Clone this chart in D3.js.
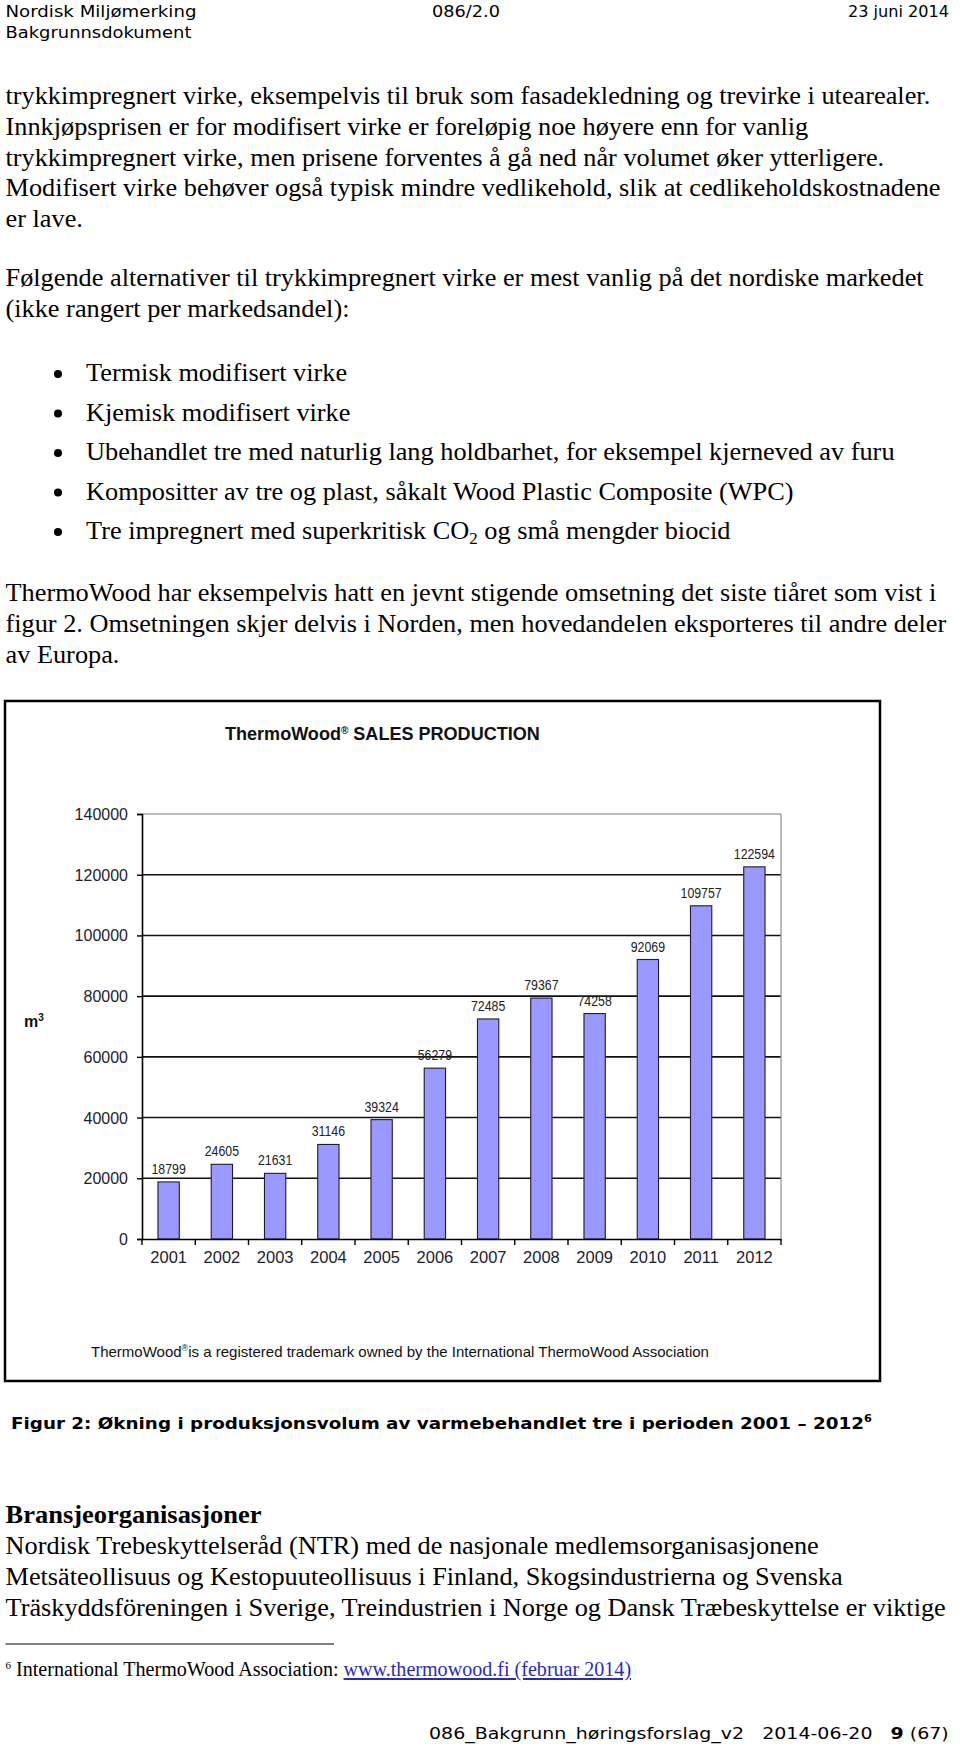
<!DOCTYPE html>
<html>
<head>
<meta charset="utf-8">
<script src="https://cdn.jsdelivr.net/npm/d3@7"></script>
<style>
body { margin: 0; background: #fff; }
svg { display: block; }
</style>
</head>
<body>
<svg id="page" width="960" height="1744"></svg>
<script>
// chart data
var years = ["2001", "2002", "2003", "2004", "2005", "2006", "2007", "2008", "2009", "2010", "2011", "2012"];
var production = [18799, 24605, 21631, 31146, 39324, 56279, 72485, 79367, 74258, 92069, 109757, 122594];
var yTickVals = [0, 20000, 40000, 60000, 80000, 100000, 120000, 140000];

// page text
var para1 = [
    "trykkimpregnert virke, eksempelvis til bruk som fasadekledning og trevirke i utearealer.",
    "Innkjøpsprisen er for modifisert virke er foreløpig noe høyere enn for vanlig",
    "trykkimpregnert virke, men prisene forventes å gå ned når volumet øker ytterligere.",
    "Modifisert virke behøver også typisk mindre vedlikehold, slik at cedlikeholdskostnadene",
    "er lave."
];
var para2 = [
    "Følgende alternativer til trykkimpregnert virke er mest vanlig på det nordiske markedet",
    "(ikke rangert per markedsandel):"
];
var bullets = [
    "Termisk modifisert virke",
    "Kjemisk modifisert virke",
    "Ubehandlet tre med naturlig lang holdbarhet, for eksempel kjerneved av furu",
    "Kompositter av tre og plast, såkalt Wood Plastic Composite (WPC)",
    "Tre impregnert med superkritisk CO|2| og små mengder biocid"
];
var para3 = [
    "ThermoWood har eksempelvis hatt en jevnt stigende omsetning det siste tiåret som vist i",
    "figur 2. Omsetningen skjer delvis i Norden, men hovedandelen eksporteres til andre deler",
    "av Europa."
];
var para4 = [
    "Nordisk Trebeskyttelseråd (NTR) med de nasjonale medlemsorganisasjonene",
    "Metsäteollisuus og Kestopuuteollisuus i Finland, Skogsindustrierna og Svenska",
    "Träskyddsföreningen i Sverige, Treindustrien i Norge og Dansk Træbeskyttelse er viktige"
];

var SANS = "'DejaVu Sans', Verdana, sans-serif";
var SERIF = "'Liberation Serif', 'Times New Roman', serif";
var ARIAL = "'Liberation Sans', Arial, sans-serif";
var BODY_SZE = 25;
var LINE_H = 30.8;
var AXIS_TXT_COL = "#1c2230";

var svg = d3.select("#page");
svg.append("rect").attr("width", 960).attr("height", 1744).attr("fill", "#fff");

// squeeze/stretch a text to a given width
function fit(t, x, y, w) {
    var n = t.node().getComputedTextLength();
    t.attr("transform", "translate(" + x + "," + y + ") scale(" + (w / n) + ",1)");
    return t;
}

function sansText(str, size, bold) {
    return svg.append("text")
        .style("font-family", SANS)
        .style("font-size", size + "px")
        .style("font-weight", bold ? "bold" : "normal")
        .style("white-space", "pre")
        .attr("fill", "#000")
        .text(str);
}

// ---- header
fit(sansText("Nordisk Miljømerking", 16), 5.5, 17, 191);
fit(sansText("Bakgrunnsdokument", 16), 5.5, 38, 186);
fit(sansText("086/2.0", 16), 432, 17, 68);
fit(sansText("23 juni 2014", 16), 848, 17, 101);

// ---- body text
var probe = svg.append("text").style("font-family", SERIF).style("font-size", BODY_SZE + "px").text(para1[0]);
var bodyScale = 925 / probe.node().getComputedTextLength();
probe.remove();

function bodyLine(str, x, y) {
    var t = svg.append("text")
        .style("font-family", SERIF)
        .style("font-size", BODY_SZE + "px")
        .attr("fill", "#000")
        .attr("transform", "translate(" + x + "," + y + ") scale(" + bodyScale + ",1)");
    var parts = str.split("|");
    parts.forEach(function(p, i) {
        var ts = t.append("tspan").text(p);
        if (i % 2 == 1) ts.style("font-size", "16px").attr("dy", 5);
        else if (i > 0) ts.attr("dy", -5);
    });
    return t;
}

function paragraph(lines, x, y0) {
    lines.forEach(function(d, i) { bodyLine(d, x, y0 + i * LINE_H); });
}

paragraph(para1, 5.5, 104);
paragraph(para2, 5.5, 286);

bullets.forEach(function(d, i) {
    var yy = 381 + i * 39.5;
    svg.append("circle").attr("cx", 58).attr("cy", yy - 7).attr("r", 4).attr("fill", "#000");
    bodyLine(d, 86, yy);
});

paragraph(para3, 5.5, 601);

// ---- chart
var frameX = 5, frameY = 701, frameW = 875, frameH = 680;
svg.append("rect")
    .attr("x", frameX).attr("y", frameY)
    .attr("width", frameW).attr("height", frameH)
    .attr("fill", "#fff")
    .attr("stroke", "#000")
    .attr("stroke-width", 2.5);

var chartScaleX = d3.scaleBand()
    .domain(years)
    .range([142, 781])
    .paddingInner(0.6)
    .paddingOuter(0.3);

var chartScaleY = d3.scaleLinear()
    .domain([0, 140000])
    .range([1239, 814]);

// title
var title = svg.append("text")
    .style("font-family", ARIAL)
    .style("font-size", "18px")
    .style("font-weight", "bold")
    .attr("fill", "#111");
title.append("tspan").text("ThermoWood");
title.append("tspan").text("®").style("font-size", "10px").attr("dy", -6);
title.append("tspan").text(" SALES PRODUCTION").attr("dy", 6);
fit(title, 225, 740, 315);

// gridlines (top one is the grey plot border)
svg.append("g")
    .selectAll("line")
    .data(yTickVals.slice(1))
    .enter()
    .append("line")
    .attr("x1", chartScaleX.range()[0])
    .attr("x2", chartScaleX.range()[1])
    .attr("y1", d => chartScaleY(d))
    .attr("y2", d => chartScaleY(d))
    .attr("stroke", d => d == 140000 ? "#7a7a7a" : "#111")
    .attr("stroke-width", d => d == 140000 ? 1.2 : 1.6);

// right plot border
svg.append("line")
    .attr("x1", chartScaleX.range()[1]).attr("x2", chartScaleX.range()[1])
    .attr("y1", chartScaleY(140000)).attr("y2", chartScaleY(0))
    .attr("stroke", "#8a8a8a")
    .attr("stroke-width", 1.2);

// bars
svg.append("g")
    .selectAll("rect")
    .data(production)
    .enter()
    .append("rect")
    .attr("x", (d, i) => chartScaleX(years[i]))
    .attr("y", d => chartScaleY(d))
    .attr("width", chartScaleX.bandwidth())
    .attr("height", d => chartScaleY(0) - chartScaleY(d))
    .attr("fill", "#9999ff")
    .attr("stroke", "#1c1c3a")
    .attr("stroke-width", 1.1);

// value labels
svg.append("g")
    .selectAll("text")
    .data(production)
    .enter()
    .append("text")
    .attr("transform", (d, i) => "translate(" + (chartScaleX(years[i]) + chartScaleX.bandwidth() / 2) + "," + (chartScaleY(d) - 8) + ") scale(0.85,1)")
    .attr("text-anchor", "middle")
    .style("font-family", ARIAL)
    .style("font-size", "14.5px")
    .attr("fill", "#222")
    .text(d => d);

// y axis
var yAxis = d3.axisLeft(chartScaleY)
    .tickValues(yTickVals)
    .tickSize(5)
    .tickPadding(10)
    .tickFormat(d => d);

var yG = svg.append("g")
    .attr("transform", "translate(" + chartScaleX.range()[0] + ",0)")
    .call(yAxis);
yG.select(".domain").attr("stroke", "#000").attr("stroke-width", 1.6);
yG.selectAll(".tick line").attr("stroke", "#000").attr("stroke-width", 1.4);
yG.selectAll("text")
    .attr("transform", "scale(0.94,1)")
    .style("font-family", ARIAL)
    .style("font-size", "17px")
    .attr("fill", AXIS_TXT_COL);

// x axis
var xAxis = d3.axisBottom(chartScaleX)
    .tickSize(0)
    .tickPadding(12);

var xG = svg.append("g")
    .attr("transform", "translate(0," + chartScaleY(0) + ")")
    .call(xAxis);
xG.select(".domain").attr("stroke", "#000").attr("stroke-width", 1.6);
xG.selectAll("text")
    .attr("transform", "scale(0.97,1)")
    .style("font-family", ARIAL)
    .style("font-size", "17px")
    .attr("fill", AXIS_TXT_COL);

// tick marks between categories
var gap = (chartScaleX.step() - chartScaleX.bandwidth()) / 2;
var bounds = years.map(d => chartScaleX(d) - gap).concat([chartScaleX.range()[1]]);
svg.append("g")
    .selectAll("line")
    .data(bounds)
    .enter()
    .append("line")
    .attr("x1", d => d).attr("x2", d => d)
    .attr("y1", chartScaleY(0)).attr("y2", chartScaleY(0) + 6)
    .attr("stroke", "#000")
    .attr("stroke-width", 1.4);

// unit
var unit = svg.append("text")
    .attr("x", 24).attr("y", 1027)
    .style("font-family", ARIAL)
    .style("font-size", "16px")
    .style("font-weight", "bold")
    .attr("fill", "#111");
unit.append("tspan").text("m");
unit.append("tspan").text("3").style("font-size", "10px").attr("dy", -6);

// trademark note
var tm = svg.append("text")
    .style("font-family", ARIAL)
    .style("font-size", "15px")
    .attr("fill", "#111");
tm.append("tspan").text("ThermoWood");
tm.append("tspan").text("®").style("font-size", "9px").attr("dy", -6);
tm.append("tspan").text("is a registered trademark owned by the International ThermoWood Association").attr("dy", 6);
fit(tm, 91, 1357, 618);

// ---- caption
var cap = sansText("Figur 2: Økning i produksjonsvolum av varmebehandlet tre i perioden 2001 – 2012", 16, true);
cap.append("tspan").text("6").style("font-size", "10px").attr("dy", -7);
fit(cap, 11, 1429, 862);

// ---- section
var head = svg.append("text")
    .style("font-family", SERIF)
    .style("font-size", BODY_SZE + "px")
    .style("font-weight", "bold")
    .attr("fill", "#000")
    .text("Bransjeorganisasjoner");
fit(head, 5.5, 1523, 256);

paragraph(para4, 5.5, 1554);

// ---- footnote
svg.append("line")
    .attr("x1", 5.5).attr("x2", 334)
    .attr("y1", 1644).attr("y2", 1644)
    .attr("stroke", "#000").attr("stroke-width", 1.2);

var fn = svg.append("text")
    .style("font-family", SERIF)
    .style("font-size", "20px")
    .style("white-space", "pre")
    .attr("fill", "#000");
fn.append("tspan").text("6").style("font-size", "11px").attr("dy", -7);
fn.append("tspan").text(" International ThermoWood Association: ").attr("dy", 7);
fn.append("tspan").text("www.thermowood.fi (februar 2014)")
    .attr("fill", "#2b2bb8")
    .style("text-decoration", "underline");
fit(fn, 5.5, 1676, 626);

// ---- page footer
var pf = sansText("086_Bakgrunn_høringsforslag_v2   2014-06-20   ", 16);
pf.append("tspan").text("9").style("font-weight", "bold");
pf.append("tspan").text(" (67)");
fit(pf, 429, 1739, 520);
</script>
</body>
</html>
